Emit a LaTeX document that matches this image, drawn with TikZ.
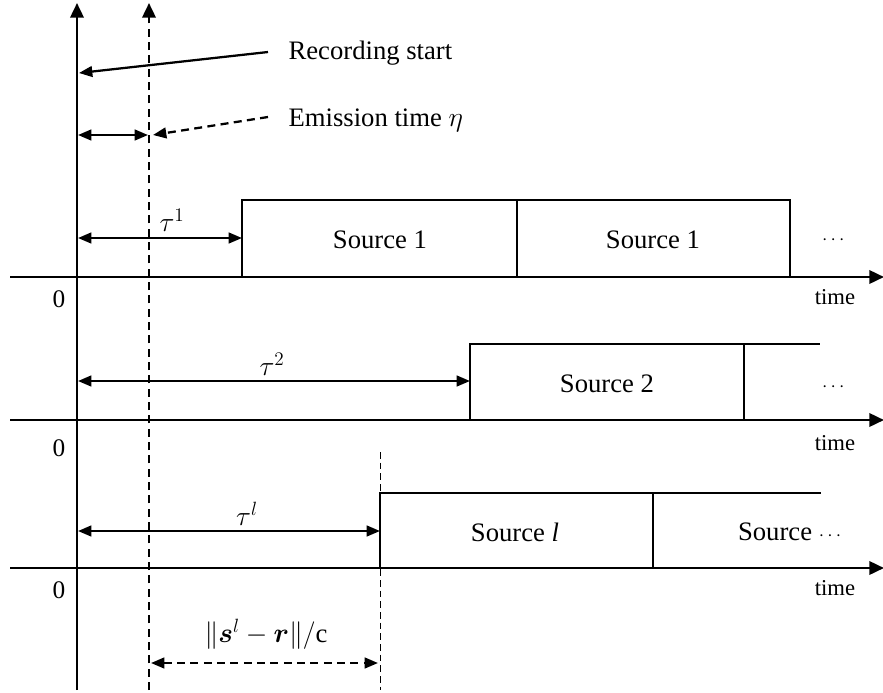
\documentclass[tikz,border=0pt]{standalone}
\usepackage{amsmath,bm}
\usepackage{fontspec}
\setmainfont{Liberation Serif}
\usetikzlibrary{arrows.meta}
\begin{document}
\begin{tikzpicture}[x=0.75pt,y=-0.75pt,
  axis/.style={line width=1.9pt,-{Triangle[length=11pt,width=10pt]}},
  boxline/.style={line width=1.3pt},
  dbl/.style={line width=1.7pt,{Triangle[length=10pt,width=8pt]}-{Triangle[length=10pt,width=8pt]}},
  ptr/.style={line width=1.7pt,-{Triangle[length=10pt,width=8pt]}},
  dsh/.style={dash pattern=on 6pt off 4pt},
  lab/.style={font=\fontsize{20pt}{22pt}\selectfont, inner sep=1pt},
  small/.style={font=\fontsize{17pt}{19pt}\selectfont, inner sep=1pt},
  zero/.style={font=\fontsize{19pt}{21pt}\selectfont, inner sep=1pt},
  dots/.style={font=\fontsize{14pt}{16pt}\selectfont, inner sep=1pt}]
\useasboundingbox (0,0) rectangle (883,693);
% vertical axes
\coordinate (vb) at (77,690); \coordinate (vt) at (77,3);
\draw[axis] (vb) -- (vt);
\coordinate (db) at (149,690); \coordinate (dt) at (149,3);
\draw[axis,dsh] (db) -- (dt);
% horizontal axes
\foreach \n/\y in {1/277,2/420,3/568}{
  \coordinate (hl\n) at (10,\y); \coordinate (hr\n) at (884,\y);
  \draw[axis] (hl\n) -- (hr\n);
}
% annotations top
\node[lab,anchor=west] (rec) at (287,53) {Recording start};
\node[lab,anchor=west] (emi) at (287,120) {Emission time $\eta$};
\coordinate (recs) at (268,52); \coordinate (rece) at (79,73);
\draw[ptr] (recs) -- (rece);
\coordinate (emis) at (268,117); \coordinate (emie) at (153,135);
\draw[ptr,dsh] (emis) -- (emie);
\coordinate (ea) at (78,135); \coordinate (eb) at (148,135);
\draw[dbl] (ea) -- (eb);
% row 1
\draw[boxline] (242,277) -- (242,200) -- (790,200) -- (790,277);
\draw[boxline] (517,200) -- (517,277);
\node[lab] (s1a) at (380,240) {Source 1};
\node[lab] (s1b) at (653,240) {Source 1};
\node[dots] (d1) at (835,240) {$\cdots$};
\coordinate (t1a) at (78,238); \coordinate (t1b) at (242,238);
\draw[dbl] (t1a) -- (t1b);
\node[lab] (tau1) at (172,220) {$\tau^1$};
\node[zero] (z1) at (59,299) {0};
\node[small] (time1) at (835,297) {time};
% row 2
\draw[boxline] (470,420) -- (470,344) -- (820,344);
\draw[boxline] (744,344) -- (744,420);
\node[lab] (s2) at (607,384) {Source 2};
\node[dots] (d2) at (835,387) {$\cdots$};
\coordinate (t2a) at (78,381); \coordinate (t2b) at (470,381);
\draw[dbl] (t2a) -- (t2b);
\node[lab] (tau2) at (272,364) {$\tau^2$};
\node[zero] (z2) at (59,448) {0};
\node[small] (time2) at (835,443) {time};
% row 3
\draw[boxline] (380,568) -- (380,493) -- (821,493);
\draw[boxline] (653,493) -- (653,568);
\node[lab] (sl) at (515,532) {Source \textit{l}};
\node[lab,anchor=east] (sd) at (846,532) {Source {\fontsize{14pt}{16pt}\selectfont$\cdots$}};
\coordinate (t3a) at (78,531); \coordinate (t3b) at (380,531);
\draw[dbl] (t3a) -- (t3b);
\node[lab] (taul) at (247,514) {$\tau^{l}$};
\node[zero] (z3) at (59,590) {0};
\node[small] (time3) at (835,588) {time};
% thin dashed vertical
\coordinate (ttop) at (380,452); \coordinate (tbot) at (380,690);
\draw[line width=0.7pt,dash pattern=on 5pt off 3pt] (ttop) -- (tbot);
% bottom dashed double arrow
\coordinate (ba) at (151,663); \coordinate (bb) at (378,663);
\draw[dbl,dsh] (ba) -- (bb);
\node[lab] (norm) at (266,634) {$\|\bm{s}^{l}-\bm{r}\|/\mathrm{c}$};
\end{tikzpicture}
\end{document}
